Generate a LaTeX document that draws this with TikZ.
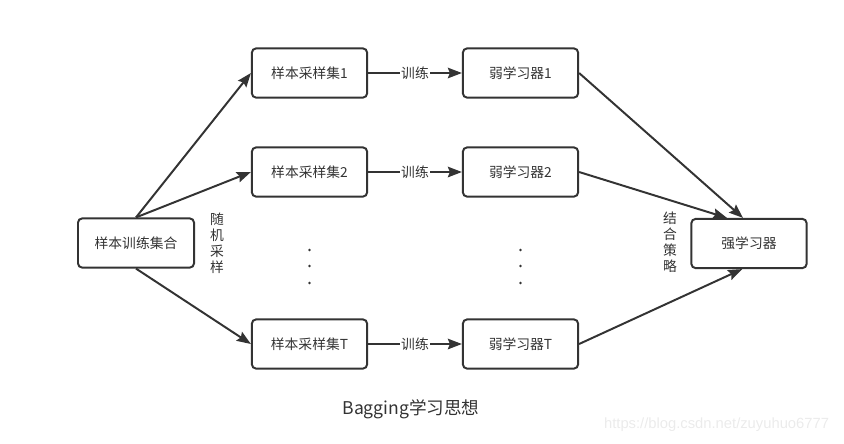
\documentclass[tikz,border=0pt]{standalone}
\usepackage{fontspec}
\setmainfont{Noto Sans CJK SC}
\newfontfamily\markfont{Liberation Sans}
\usetikzlibrary{arrows.meta,positioning}
\definecolor{linegray}{HTML}{333333}
\definecolor{markgray}{HTML}{EBEBEB}

\begin{document}
\begin{tikzpicture}[x=0.025cm, y=-0.025cm,
  box/.style={draw=linegray, line width=1.4pt, rounded corners=3pt, minimum width=2.88cm, minimum height=1.23cm, text=linegray, font=\fontsize{9.8}{11}\selectfont},
  arr/.style={draw=linegray, line width=1.4pt, -{Stealth[length=10pt, width=7.5pt, inset=1.5pt]}},
  lbl/.style={fill=white, inner sep=1pt, text=linegray, font=\fontsize{9.8}{11}\selectfont},
  vlbl/.style={align=center, text=linegray, font=\fontsize{9.8}{11.4}\selectfont}]
\useasboundingbox (0,0) rectangle (844,443);

\node[box, minimum width=2.9cm] (train) at (136,243) {样本训练集合};
\node[box] (samp1) at (309.5,73) {样本采样集1};
\node[box] (samp2) at (309.5,172) {样本采样集2};
\node[box] (sampT) at (309.5,344) {样本采样集T};
\node[box] (weak1) at (520.5,73) {弱学习器1};
\node[box] (weak2) at (520.5,172) {弱学习器2};
\node[box] (weakT) at (520.5,344) {弱学习器T};
\node[box] (strong) at (749,243.5) {强学习器};

\node[vlbl] (sampling) at (217,243) {随\\机\\采\\样};
\node[vlbl] (combine) at (670,242) {结\\合\\策\\略};

% vertical dots between row 2 and row T
\foreach \y in {250,266,283} {
  \fill[linegray] (309.5,\y) circle (0.9pt);
  \fill[linegray] (520.5,\y) circle (0.9pt);
}

\draw[arr] (train.north) -- (samp1.west);
\draw[arr] (train.north) -- (samp2.west);
\draw[arr] (train.south) -- (sampT.west);

\draw[arr] (samp1.east) -- node[lbl] (train1) {训练} (weak1.west);
\draw[arr] (samp2.east) -- node[lbl] (train2) {训练} (weak2.west);
\draw[arr] (sampT.east) -- node[lbl] (trainT) {训练} (weakT.west);

\draw[arr] (weak1.east) -- ([xshift=-0.15cm]strong.north);
\draw[arr] (weak2.east) -- ([xshift=-0.55cm]strong.north);
\draw[arr] (weakT.east) -- ([xshift=-0.17cm]strong.south);

\node[text=linegray, font=\fontsize{12.5}{14}\selectfont] (title) at (411,409) {Bagging学习思想};
\node[anchor=east, text=markgray, font=\markfont\fontsize{10.5}{12}\selectfont] (mark) at (834,425) {https://blog.csdn.net/zuyuhuo6777};

\end{tikzpicture}
\end{document}
